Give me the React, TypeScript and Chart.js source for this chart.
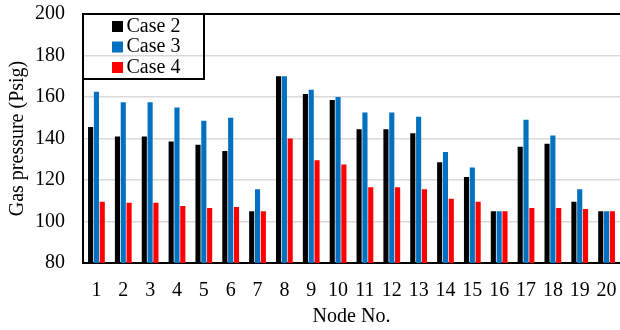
import React, { useEffect, useRef } from "react";
import { Chart, registerables } from "chart.js";

Chart.register(...registerables);

const nodes = ["1","2","3","4","5","6","7","8","9","10","11","12","13","14","15","16","17","18","19","20"];
const case2 = [145.5, 141, 141, 138.5, 137, 134, 105, 170, 161.5, 158.5, 144.5, 144.5, 142.5, 128.5, 121.5, 105, 136, 137.5, 109.5, 105];
const case3 = [162.5, 157.5, 157.5, 155, 148.5, 150, 115.5, 170, 163.5, 160, 152.5, 152.5, 150.5, 133.5, 126, 105, 149, 141.5, 115.5, 105];
const case4 = [109.5, 109, 109, 107.5, 106.5, 107, 105, 140, 129.5, 127.5, 116.5, 116.5, 115.5, 111, 109.5, 105, 106.5, 106.5, 106, 105];
const seriesNames = ["Case 2", "Case 3", "Case 4"];
const seriesColors = ["#000000", "#0070C0", "#FF0000"];

const FONT = "'Liberation Serif', 'Times New Roman', serif";

const legendBoxPlugin = {
  id: "legendBox",
  afterDatasetsDraw(chart: any) {
    const { ctx, chartArea } = chart;
    const x0 = chartArea.left;
    const y0 = chartArea.top;
    ctx.save();
    ctx.strokeStyle = "#000";
    ctx.lineWidth = 2;
    ctx.strokeRect(x0, y0, 121, 65);
    ctx.font = "20px " + FONT;
    ctx.textBaseline = "middle";
    ctx.textAlign = "left";
    chart.data.datasets.forEach((ds: any, i: number) => {
      const cy = y0 + 12.5 + i * 20.5;
      ctx.fillStyle = ds.backgroundColor;
      ctx.fillRect(x0 + 29, cy - 5.5, 11, 11);
      ctx.fillStyle = "#000";
      ctx.fillText(ds.label, x0 + 43.5, cy);
    });
    ctx.restore();
  },
};

export default function App() {
  const ref = useRef<HTMLCanvasElement>(null);
  useEffect(() => {
    document.body.style.margin = "0";
    const canvas = ref.current!;
    const data = [case2, case3, case4];
    const chart = new Chart(canvas, {
      type: "bar",
      data: {
        labels: nodes,
        datasets: seriesNames.map((name, i) => ({
          label: name,
          data: data[i],
          backgroundColor: seriesColors[i],
          borderWidth: 0,
          categoryPercentage: 0.65,
          barPercentage: 0.88,
        })),
      },
      options: {
        animation: false,
        responsive: false,
        devicePixelRatio: 1,
        layout: { padding: { left: 0, top: 14, right: 0, bottom: 0 } },
        plugins: {
          legend: { display: false },
          tooltip: { enabled: false },
        },
        scales: {
          x: {
            grid: { display: false, drawTicks: false },
            border: { display: true, color: "#000", width: 2 },
            ticks: {
              color: "#000",
              font: { family: FONT, size: 20 },
              padding: 16,
              maxRotation: 0,
              autoSkip: false,
            },
            title: {
              display: true,
              text: "Node No.",
              color: "#000",
              font: { family: FONT, size: 20 },
              padding: { top: 0, bottom: 1.5 },
            },
            afterFit: (scale: any) => {
              scale.height = 67;
              scale.paddingRight = 0;
              scale.paddingLeft = 0;
            },
          },
          y: {
            min: 80,
            max: 200,
            ticks: {
              stepSize: 20,
              color: "#000",
              font: { family: FONT, size: 20 },
              padding: 18,
            },
            grid: {
              drawTicks: false,
              color: (c: any) => (c.tick && c.tick.value === 200 ? "#000" : "#d9d9d9"),
              lineWidth: (c: any) => (c.tick && c.tick.value === 200 ? 2 : 1.5),
            },
            border: { display: true, color: "#000", width: 2 },
            title: {
              display: true,
              text: "Gas pressure (Psig)",
              color: "#000",
              font: { family: FONT, size: 20 },
              padding: { top: 6, bottom: 0 },
            },
            afterFit: (scale: any) => {
              scale.width = 83;
              scale.paddingTop = 0;
              scale.paddingBottom = 0;
            },
          },
        },
      },
      plugins: [legendBoxPlugin],
    });
    return () => chart.destroy();
  }, []);
  return (
    <div style={{ width: 620, height: 330 }}>
      <canvas ref={ref} width={620} height={330} />
    </div>
  );
}
